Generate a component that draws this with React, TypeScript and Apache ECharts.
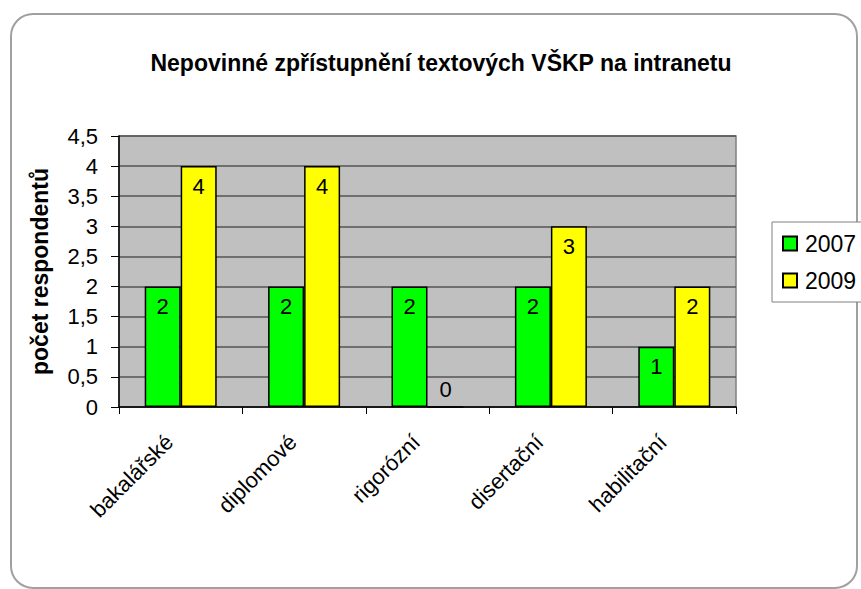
import React, { useEffect, useRef } from "react";
import * as echarts from "echarts";

const categories = ["bakalářské", "diplomové", "rigorózní", "disertační", "habilitační"];
const values2007 = [2, 2, 2, 2, 1];
const values2009 = [4, 4, 0, 3, 2];
const seriesNames = ["2007", "2009"];
const titleText = "Nepovinné zpřístupnění textových VŠKP na intranetu";
const yAxisName = "počet respondentů";

const FONT = "'Liberation Sans', Arial, sans-serif";

export default function App() {
  const ref = useRef<HTMLDivElement>(null);
  useEffect(() => {
    if (!ref.current) return;
    const chart = echarts.init(ref.current, null, { renderer: "svg" });
    const labelFor = (v: number) =>
      v === 0
        ? { value: v, label: { position: "top", distance: 6 } }
        : v;
    chart.setOption({
      animation: false,
      backgroundColor: "#ffffff",
      textStyle: { fontFamily: FONT },
      graphic: [
        {
          type: "rect",
          z: -10,
          silent: true,
          shape: { x: 11, y: 14, width: 846, height: 574, r: 22 },
          style: { fill: "none", stroke: "#a0a0a0", lineWidth: 2 },
        },
      ],
      title: {
        text: titleText,
        left: 436,
        top: 46,
        textAlign: "center",
        textStyle: { fontFamily: FONT, fontSize: 23, fontWeight: "bold", color: "#000" },
      },
      legend: {
        orient: "vertical",
        left: 772,
        top: 222,
        data: seriesNames,
        icon: "rect",
        itemWidth: 14,
        itemHeight: 14,
        itemGap: 14,
        padding: [10, 20, 10, 10],
        borderColor: "#808080",
        borderWidth: 1,
        backgroundColor: "#ffffff",
        textStyle: { fontFamily: FONT, fontSize: 23, color: "#000", padding: [0, 0, 0, 3] },
      },
      grid: {
        left: 119,
        top: 136,
        width: 617,
        height: 271,
        show: true,
        backgroundColor: "#c0c0c0",
        borderColor: "#808080",
        borderWidth: 1.5,
      },
      xAxis: {
        type: "category",
        data: categories,
        boundaryGap: true,
        axisLine: { lineStyle: { color: "#000", width: 1.5 } },
        axisTick: { show: true, length: 7, inside: false, lineStyle: { color: "#000" } },
        axisLabel: {
          rotate: 45,
          interval: 0,
          margin: 20,
          padding: [0, 16, 24, 0],
          fontFamily: FONT,
          fontSize: 22,
          color: "#000",
        },
      },
      yAxis: {
        type: "value",
        min: 0,
        max: 4.5,
        interval: 0.5,
        name: yAxisName,
        nameLocation: "middle",
        nameGap: 68,
        nameRotate: 90,
        nameTextStyle: { fontFamily: FONT, fontSize: 23, fontWeight: "bold", color: "#000" },
        axisLine: { show: true, lineStyle: { color: "#000", width: 1.5 } },
        axisTick: { show: true, length: 8, lineStyle: { color: "#000" } },
        axisLabel: {
          margin: 21,
          fontFamily: FONT,
          fontSize: 22,
          color: "#000",
          formatter: (v: number) => String(v).replace(".", ","),
        },
        splitLine: { show: true, lineStyle: { color: "#555555", width: 1.5 } },
      },
      series: [
        {
          name: seriesNames[0],
          type: "bar",
          data: values2007.map(labelFor),
          barWidth: 36,
          barGap: "0%",
          itemStyle: { color: "#00ff00", borderColor: "#000", borderWidth: 1.5 },
          label: {
            show: true,
            position: "insideTop",
            distance: 9,
            fontFamily: FONT,
            fontSize: 22,
            color: "#000",
          },
        },
        {
          name: seriesNames[1],
          type: "bar",
          data: values2009.map(labelFor),
          barWidth: 36,
          barGap: "0%",
          itemStyle: { color: "#ffff00", borderColor: "#000", borderWidth: 1.5 },
          label: {
            show: true,
            position: "insideTop",
            distance: 9,
            fontFamily: FONT,
            fontSize: 22,
            color: "#000",
          },
        },
      ],
    });
    return () => chart.dispose();
  }, []);
  return (
    <div
      ref={ref}
      style={{ position: "fixed", left: 0, top: 0, width: 861, height: 589 }}
    />
  );
}
